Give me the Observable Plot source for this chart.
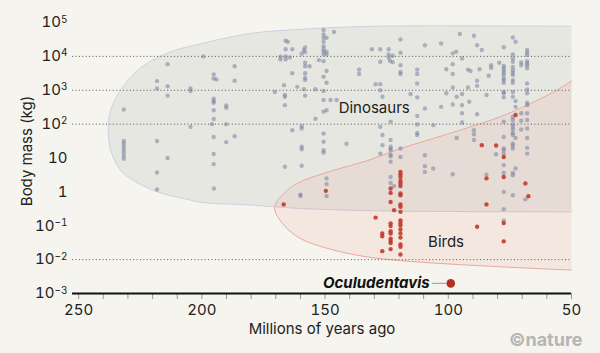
<!DOCTYPE html>
<html><head><meta charset="utf-8">
<script src="https://cdn.jsdelivr.net/npm/d3@7"></script>
<script src="https://cdn.jsdelivr.net/npm/@observablehq/plot@0.6"></script>
<style>
html,body{margin:0;padding:0;background:#f5f4ee;}
#chart{width:600px;height:353px;}
</style></head><body><div id="chart"></div>
<script>
// ---- axis ticks ----
const xMajorTicks = [250, 200, 150, 100, 50];
const xMinorTicks = [250, 240, 230, 220, 210, 200, 190, 180, 170, 160, 150, 140, 130, 120, 110, 100, 90, 80, 70, 60, 50];
const yTicks = [1e-3, 1e-2, 1e-1, 1, 10, 1e2, 1e3, 1e4, 1e5];
const yTickLabels = ["10^-3", "10^-2", "10^-1", "1", "10", "10^2", "10^3", "10^4", "10^5"];
const gridValues = [1e4, 1e3, 1e2, 1e-2];

// ---- non-avian dinosaurs: [millions of years ago, log10 body mass (kg)] ----
const dinosaurs = [
  [213.9,3.77],[218.2,3.27],[218.2,3.05],[213.9,3.12],[213.9,2.84],[204.6,3.05],[204.6,2.98],[231.7,2.43],[204.6,1.92],[218.2,1.50],
  [231.7,1.50],[231.7,1.43],[231.7,1.34],[231.7,1.25],[231.7,1.16],[231.7,1.07],[231.7,0.98],
  [213.9,1.00],[218.2,0.57],[218.2,0.07],
  [199.4,4.0],[195.2,3.47],[195.2,3.35],[194.1,3.32],[186.7,3.71],[186.7,3.28],[195.2,2.75],[195.2,2.68],[195.2,2.63],[195.2,2.41],
  [190.1,2.55],[190.1,2.48],[195.2,2.15],[195.9,2.0],[190.1,2.0],[195.2,1.62],[186.7,1.64],[190.1,1.47],[195.2,1.12],[195.2,0.82],[195.1,0.10],
  [166.0,4.46],[165.1,4.43],[166.0,4.21],[163.3,4.21],[168.1,3.99],[168.1,3.91],[166.0,4.0],[166.0,3.91],[164.3,3.97],[163.3,3.50],
  [166.7,3.15],[166.3,2.86],[166.3,2.81],[166.3,2.56],[170.4,2.95],[161.3,3.10],
  [159.5,4.08],[158.6,4.19],[158.1,4.26],[158.1,4.13],[158.1,3.81],[158.1,3.71],[156.3,3.71],[158.1,3.50],[158.1,3.37],[158.1,3.30],
  [158.6,3.03],[158.1,2.84],[153.9,3.03],
  [159.5,1.94],[159.5,1.87],[163.3,1.82],[159.5,1.33],[159.5,1.26],[166.3,0.74],[159.5,0.77],[153.9,2.16],[160,-0.08],[160,-0.12],
  [150.6,4.78],[150.6,4.65],[150.6,4.55],[150.6,4.43],[150.6,4.30],[150.6,4.21],[150.6,4.14],[150.6,4.06],[150.6,3.86],[150.6,3.40],
  [150.6,2.98],[150.6,2.71],[150.6,2.37],[150.6,1.72],[150.6,1.48],[150.6,1.23],[150.6,1.16],
  [149.4,4.55],[149.4,4.14],[149.4,4.06],[152.5,3.89],[149.4,3.57],[149.4,3.22],[146.4,4.72],[147.8,2.71],[145.3,2.71],[149.4,2.41],
  [141.3,1.42],[149.4,0.40],[149.4,0.23],[149.4,-0.12],
  [136.2,3.61],[136.2,3.48],[131,4.21],[127.6,4.21],[127.6,3.84],[124.2,4.21],[124.2,4.06],[124.2,3.97],[122.6,4.02],[123.7,3.87],[122.6,3.83],
  [129.5,3.18],[127.6,3.18],[127.6,3.0],[126.7,2.81],[123.4,2.07],[127.6,1.92],[126.7,1.68],[126.7,1.38],[123.4,1.53],[123.4,1.33],
  [123.4,1.27],[127.6,1.13],[123.4,1.10],[123.4,1.05],[123.4,0.44],[123.4,1.23],[123.4,0.89],[123.4,0.26],[122,0.17],
  [119.4,4.5],[119.4,4.11],[119.4,3.74],[119.4,3.54],[119.4,3.48],[119.4,1.28],[119.4,1.03],
  [95.3,4.66],[89.6,4.61],[102.9,4.38],[109.5,4.33],[98.2,4.09],[96.8,4.14],[88.3,4.33],[86.4,4.19],[94.4,3.94],[98.2,3.77],
  [100.8,3.62],[98.2,3.48],[92,3.61],[91,3.57],[87.3,3.62],[82.6,3.74],[82.6,3.66],[83.6,3.43],[79.3,3.81],[88.3,3.28],
  [88.3,3.13],[98.2,3.08],[92,3.08],[94.4,2.89],[96.6,2.81],[100.8,2.91],[84.5,2.86],[91.5,2.66],[98.2,2.58],[94.4,2.56],
  [102.9,2.51],[109.5,2.46],[94.4,2.32],[88.3,2.29],[94.4,2.05],[106.1,1.97],
  [112.6,3.61],[112.6,3.48],[112.6,3.20],[112.6,2.79],[112.6,2.24],[112.6,1.99],[112.6,1.74],[112.6,1.68],[115.3,2.89],
  [96.6,1.59],[89.6,1.82],[89.6,1.70],[89.6,1.53],[109.5,1.08],[109.5,0.76],[109.5,0.59],[106.1,0.69],[98.2,0.52],[84.5,0.51],[80.6,1.11],
  [77.5,4.27],[77.5,3.72],[77.5,3.66],[77.5,3.59],[77.5,3.52],[77.5,3.45],[77.5,3.35],[77.5,3.30],[77.5,3.22],[77.5,2.95],
  [77.5,2.91],[77.5,2.79],[77.5,2.07],[77.5,1.62],[77.5,1.28],[77.5,1.23],[77.5,1.13],[77.5,0.79],[77.5,0.56],[77.5,0.0],[77.5,-0.51],[77.5,-0.84],
  [73.8,4.56],[72.7,4.43],[73.8,4.06],[73.8,3.94],[73.8,3.84],[73.8,3.69],[73.8,3.59],[73.8,3.52],[73.8,3.45],[73.8,3.30],
  [73.8,3.22],[73.8,2.95],[73.8,2.81],[72.7,2.68],[72.7,2.51],[73.8,2.21],[73.8,2.12],[73.8,2.0],[73.8,1.92],[73.8,1.84],
  [73.8,1.74],[73.8,1.68],[72.7,1.59],[73.8,1.43],[73.8,1.37],[73.8,1.28],[72.7,0.69],[73.8,0.49],[73.8,0.56],[73.8,-0.10],
  [68,4.19],[68,4.11],[68,4.04],[68,3.86],[68,3.79],[68,3.74],[68,3.65],[68,3.20],[68,3.02],[68,2.91],
  [68,2.63],[68,2.56],[68,2.32],[68,2.12],[68,1.87],[68,1.59],[68,1.30],[68,1.13],[68.7,-0.22],
  [70.4,3.82],[70.4,3.74],[70.4,2.32],[70.4,2.10],[70.4,1.84]
];

// ---- birds: [millions of years ago, log10 body mass (kg)] ----
const birds = [
  [166.8,-0.37],[149.7,0.03],[129.5,-0.76],[126.8,-1.23],[126.8,-1.31],[126.8,-1.75],
  [123.4,0.10],[123.4,-0.03],[123.4,-0.30],[123.4,-0.93],[123.4,-1.01],[123.4,-1.16],[123.4,-1.23],[123.4,-1.38],[123.4,-1.45],[123.4,-1.51],[123.4,-1.69],[122,-0.54],
  [119.4,0.59],[119.4,0.52],[119.4,0.44],[119.4,0.32],[119.4,0.25],[119.4,0.17],[119.4,-0.05],[119.4,-0.10],[119.4,-0.37],[119.4,-0.44],
  [119.4,-0.59],[119.4,-0.84],[119.4,-0.92],[119.4,-0.99],[119.4,-1.11],[119.4,-1.23],[119.4,-1.35],[119.4,-1.55],[119.4,-1.62],[119.4,-1.85],
  [86.4,1.38],[80.6,1.37],[84.5,0.40],[84.5,-0.37],[88.3,-1.03],[77.5,1.03],[77.5,0.44],[77.5,-0.92],[77.5,-1.46],[72.7,2.27],[68.7,0.25],[67.5,-0.13]
];

// ---- Oculudentavis ----
const oculudentavis = [{name: "Oculudentavis", age: 99, logMass: -2.7}];

// ---- group envelopes: [millions of years ago, log10 body mass (kg)] ----
const dinosaurEnvelope = [
  [50,4.89],[119,4.90],[140,4.87],[160,4.80],[180,4.68],[200,4.38],[214,4.10],[225,3.65],[233,3.0],[237,2.41],
  [238,1.82],[237,1.23],[233,0.64],[227.6,0.33],[218,0.0],[206,-0.22],[200,-0.31],[180,-0.39],[160,-0.49],[140,-0.54],[119,-0.57],[50,-0.59]
];
const birdEnvelope = [
  [50,3.27],[57.2,2.95],[68,2.56],[78.8,2.22],[92.3,1.89],[105.9,1.58],[119.4,1.28],[132.9,0.92],[146.4,0.64],[159.9,0.30],
  [165.3,0.05],[170.5,-0.46],[166.7,-0.98],[159.9,-1.38],[146.4,-1.72],[132.9,-1.92],[119.4,-2.03],[92.3,-2.16],[50,-2.31]
];

// ---- group labels ----
const groupLabels = [
  {text: "Dinosaurs", age: 144.5, logMass: 2.47},
  {text: "Birds", age: 108.2, logMass: -1.48}
];

const toRows = arr => arr.map(([age, lm]) => ({age, mass: Math.pow(10, lm)}));
const dinoRows = toRows(dinosaurs);
const birdRows = toRows(birds);
const dinoEnvRows = toRows(dinosaurEnvelope);
const birdEnvRows = toRows(birdEnvelope);
const ocuRows = oculudentavis.map(d => ({...d, mass: Math.pow(10, d.logMass)}));
const labelRows = groupLabels.map(d => ({...d, mass: Math.pow(10, d.logMass)}));
const tickLabelFor = v => yTickLabels[yTicks.indexOf(v)];

const FONT = "Inter, 'Noto Sans', sans-serif";

const chart = Plot.plot({
  width: 600, height: 353,
  marginTop: 22, marginBottom: 60, marginLeft: 72, marginRight: 29,
  style: {background: "#f5f4ee", fontFamily: FONT, fontSize: "15px", color: "#222", overflow: "visible"},
  x: {domain: [252.5, 50], label: null},
  y: {type: "log", domain: [1e-3, 1e5], label: null},
  marks: [
    Plot.line(dinoEnvRows, {x: "age", y: "mass", curve: "catmull-rom", fill: "#e7e7e2", stroke: "#cdd1de", strokeWidth: 1}),
    Plot.line(birdEnvRows, {x: "age", y: "mass", curve: "catmull-rom", fill: "#e07860", fillOpacity: 0.1, stroke: "#eba79d", strokeWidth: 1}),
    Plot.ruleY(gridValues, {stroke: "#555", strokeDasharray: "1,2.4", strokeWidth: 1}),
    Plot.axisX({ticks: xMinorTicks, tickSize: 6, stroke: "#999", tickFormat: () => "", label: null}),
    Plot.axisX({ticks: xMajorTicks, tickSize: 0, tickPadding: 11, fontSize: 15, fill: "#222", label: null}),
    Plot.axisY({ticks: yTicks, tickSize: 0, tickPadding: 5, fontSize: 15, fill: "#222", tickFormat: tickLabelFor, label: null}),
    Plot.ruleY([1e-3], {stroke: "#111", strokeWidth: 2}),
    Plot.dot(dinoRows, {x: "age", y: "mass", r: 2.2, fill: "#7a819e", fillOpacity: 0.55}),
    Plot.dot(birdRows, {x: "age", y: "mass", r: 2.2, fill: "#c23a2c", fillOpacity: 0.9}),
    Plot.ruleY(ocuRows, {y: "mass", x1: d => d.age + 7.5, x2: d => d.age + 1.8, stroke: "#999", strokeWidth: 1}),
    Plot.dot(ocuRows, {x: "age", y: "mass", r: 4.3, fill: "#b3301f"}),
    Plot.text(ocuRows, {x: "age", y: "mass", text: "name", dx: -21, textAnchor: "end", fontWeight: "bold", fontStyle: "italic", fontSize: 15, fill: "#111"}),
    Plot.text(labelRows, {x: "age", y: "mass", text: "text", textAnchor: "start", fontSize: 15, fill: "#222"}),
    Plot.text(["Millions of years ago"], {frameAnchor: "bottom", lineAnchor: "middle", textAnchor: "middle", dy: 36, fontSize: 15, fill: "#222"}),
    Plot.text(["Body mass (kg)"], {frameAnchor: "left", rotate: -90, textAnchor: "middle", lineAnchor: "middle", dx: -45, dy: -7, fontSize: 15, fill: "#222"}),
    Plot.text(["©nature"], {frameAnchor: "bottom-right", lineAnchor: "middle", textAnchor: "end", dx: 11, dy: 47, fontSize: 18, fontWeight: "bold", fill: "#b5b5b5", letterSpacing: "-0.5px"})
  ]
});

// superscript exponents on the y tick labels
d3.select(chart).selectAll('g[aria-label="y-axis tick label"] text').each(function() {
  const s = this.textContent;
  if (s.includes("^")) {
    const [base, exp] = s.split("^");
    const t = d3.select(this);
    t.text(null);
    t.append("tspan").text(base);
    t.append("tspan").attr("dy", "-0.48em").attr("font-size", "10px").text(exp.replace("-", "\u2212"));
  }
});

document.getElementById("chart").appendChild(chart);
</script></body></html>
